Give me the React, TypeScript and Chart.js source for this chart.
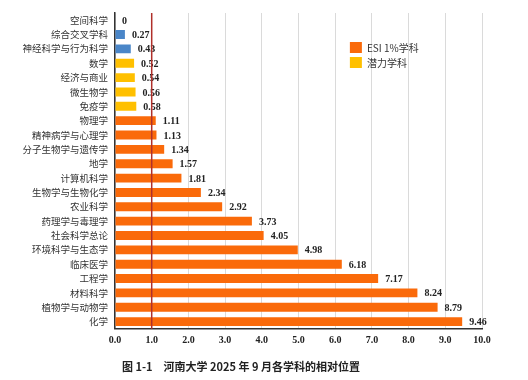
import React, { useEffect, useRef } from "react";
import { Chart, registerables } from "chart.js";

Chart.register(...registerables);

const categories = [
  "空间科学", "综合交叉学科", "神经科学与行为科学", "数学", "经济与商业", "微生物学", "免疫学",
  "物理学", "精神病学与心理学", "分子生物学与遗传学", "地学", "计算机科学", "生物学与生物化学",
  "农业科学", "药理学与毒理学", "社会科学总论", "环境科学与生态学", "临床医学", "工程学",
  "材料科学", "植物学与动物学", "化学",
];
const values = [
  0, 0.27, 0.43, 0.52, 0.54, 0.56, 0.58,
  1.11, 1.13, 1.34, 1.57, 1.81, 2.34,
  2.92, 3.73, 4.05, 4.98, 6.18, 7.17,
  8.24, 8.79, 9.46,
];
// group: 0 = other (blue), 1 = potential (yellow), 2 = ESI 1% (orange)
const groups = [0, 0, 0, 1, 1, 1, 1, 2, 2, 2, 2, 2, 2, 2, 2, 2, 2, 2, 2, 2, 2, 2];
const valueLabels = [
  "0", "0.27", "0.43", "0.52", "0.54", "0.56", "0.58",
  "1.11", "1.13", "1.34", "1.57", "1.81", "2.34",
  "2.92", "3.73", "4.05", "4.98", "6.18", "7.17",
  "8.24", "8.79", "9.46",
];
const legendLabels = ["ESI 1%学科", "潜力学科"];
const titleText = "图 1-1　河南大学 2025 年 9 月各学科的相对位置";
const referenceValue = 1;

const COLORS = ["#4A86C8", "#FFC000", "#FA6A0A"];
const SERIF = "'Liberation Serif', 'DejaVu Serif', 'Noto Sans CJK SC', serif";
const CJK = "'Noto Sans CJK SC', sans-serif";

const overlayPlugin = {
  id: "overlay",
  afterDatasetsDraw(chart: any) {
    const ctx = chart.ctx;
    const area = chart.chartArea;
    const xs = chart.scales.x;
    const meta = chart.getDatasetMeta(0);
    ctx.save();
    // value labels
    ctx.font = "bold 10px " + SERIF;
    ctx.fillStyle = "#222";
    ctx.textBaseline = "middle";
    ctx.textAlign = "left";
    meta.data.forEach((bar: any, i: number) => {
      const x = xs.getPixelForValue(values[i]);
      ctx.fillText(valueLabels[i], x + 7, bar.y + 1);
    });
    // reference line at 1.0
    const rx = xs.getPixelForValue(referenceValue);
    ctx.strokeStyle = "#B0302A";
    ctx.lineWidth = 1.5;
    ctx.beginPath();
    ctx.moveTo(rx, area.top);
    ctx.lineTo(rx, area.bottom);
    ctx.stroke();
    // legend
    const lx = area.left + (area.right - area.left) * 0.64;
    const ly = area.top + 29;
    const items = [COLORS[2], COLORS[1]];
    ctx.font = "10px " + CJK;
    items.forEach((c, i) => {
      ctx.fillStyle = c;
      ctx.fillRect(lx, ly + i * 15, 12, 11);
      ctx.fillStyle = "#333";
      ctx.fillText(legendLabels[i], lx + 17, ly + i * 15 + 6);
    });
    ctx.restore();
  },
};

export default function App() {
  const ref = useRef<HTMLCanvasElement>(null);
  useEffect(() => {
    document.body.style.margin = "0";
    const chart = new Chart(ref.current!, {
      type: "bar",
      data: {
        labels: categories,
        datasets: [
          {
            data: values,
            backgroundColor: groups.map((g) => COLORS[g]),
            categoryPercentage: 0.62,
            barPercentage: 1,
          },
        ],
      },
      options: {
        indexAxis: "y",
        animation: false,
        responsive: false,
        layout: { padding: { left: 0, right: 46, top: 13, bottom: 3 } },
        plugins: {
          legend: { display: false },
          tooltip: { enabled: false },
          title: {
            display: true,
            text: titleText,
            position: "bottom",
            color: "#222",
            font: { family: CJK, size: 11, weight: "bold" },
            padding: { top: 7, bottom: 4 },
          },
        },
        scales: {
          x: {
            min: 0,
            max: 10,
            ticks: {
              stepSize: 1,
              color: "#222",
              font: { family: SERIF, size: 10, weight: "bold" },
              callback: (v: any) => Number(v).toFixed(1),
              padding: 6,
            },
            grid: { color: "#DADADA", drawTicks: false, lineWidth: 1 },
            border: { display: true, color: "#333", width: 1.5 },
          },
          y: {
            afterFit: (s: any) => {
              s.width = 115;
            },
            ticks: {
              color: "#333",
              font: { family: CJK, size: 9.5 },
              padding: 7,
              autoSkip: false,
            },
            grid: { display: false, drawTicks: false },
            border: { display: true, color: "#333", width: 1.5 },
          },
        },
      },
      plugins: [overlayPlugin],
    });
    return () => chart.destroy();
  }, []);
  return (
    <div style={{ width: 528, height: 380 }}>
      <canvas ref={ref} width={528} height={380} />
    </div>
  );
}
